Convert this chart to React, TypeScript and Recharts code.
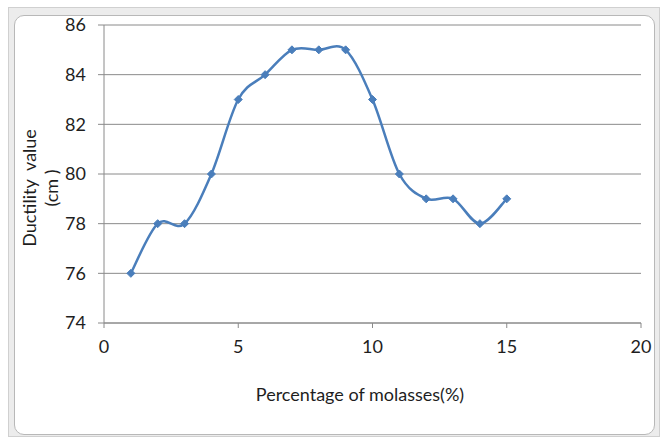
import React from "react";
import { LineChart, Line, XAxis, YAxis, CartesianGrid } from "recharts";

const molasses = [1, 2, 3, 4, 5, 6, 7, 8, 9, 10, 11, 12, 13, 14, 15];
const ductility = [76, 78, 78, 80, 83, 84, 85, 85, 85, 83, 80, 79, 79, 78, 79];
const xTicks = [0, 5, 10, 15, 20];
const yTicks = [74, 76, 78, 80, 82, 84, 86];

const data = molasses.map((m, i) => ({ m, v: ductility[i] }));

const FONT = "Lato, 'Open Sans', sans-serif";
const LINE = "#4a7ebb";
const AXIS = "#8a8a8a";
const TEXT = "#1e1e1e";

// Excel-style smoothed line (Catmull-Rom through the points)
function excelCurve(context: any) {
  let pts: [number, number][] = [];
  return {
    areaStart() {},
    areaEnd() {},
    lineStart() {
      pts = [];
    },
    point(x: number, y: number) {
      pts.push([+x, +y]);
    },
    lineEnd() {
      if (!pts.length) return;
      context.moveTo(pts[0][0], pts[0][1]);
      for (let i = 0; i < pts.length - 1; i++) {
        const p0 = pts[Math.max(0, i - 1)];
        const p1 = pts[i];
        const p2 = pts[i + 1];
        const p3 = pts[Math.min(pts.length - 1, i + 2)];
        context.bezierCurveTo(
          p1[0] + (p2[0] - p0[0]) / 6,
          p1[1] + (p2[1] - p0[1]) / 6,
          p2[0] - (p3[0] - p1[0]) / 6,
          p2[1] - (p3[1] - p1[1]) / 6,
          p2[0],
          p2[1]
        );
      }
    },
  };
}

const Diamond = (props: any) => {
  const { cx, cy } = props;
  if (cx == null || cy == null) return null;
  const s = 4;
  return (
    <path
      d={`M${cx},${cy - s}L${cx + s},${cy}L${cx},${cy + s}L${cx - s},${cy}Z`}
      fill={LINE}
      stroke={LINE}
      strokeWidth={1}
    />
  );
};

// two-line rotated axis title, baselines placed on the right of each line
const YLabel = () => (
  <g fontFamily={FONT} fontSize={18} fill={TEXT}>
    <text x={36} y={188} transform="rotate(-90 36 188)" textAnchor="middle" style={{ whiteSpace: "pre" }}>
      {"Ductility  value"}
    </text>
    <text x={58} y={188} transform="rotate(-90 58 188)" textAnchor="middle" style={{ whiteSpace: "pre" }}>
      {"(cm )"}
    </text>
  </g>
);

const XLabel = () => (
  <text x={360} y={401} textAnchor="middle" fontFamily={FONT} fontSize={18} fill={TEXT}>
    Percentage of molasses(%)
  </text>
);

export default function App() {
  return (
    <div style={{ position: "absolute", left: 0, top: 0, width: 661, height: 437, background: "#fff" }}>
      <div
        style={{
          position: "absolute",
          left: 8,
          top: 7,
          width: 652,
          height: 430,
          background: "#ececec",
          border: "1px solid #d0d0d0",
          boxSizing: "border-box",
        }}
      />
      <div
        style={{
          position: "absolute",
          left: 14,
          top: 15,
          width: 641,
          height: 420,
          background: "#fff",
          border: "1px solid #b8b8b8",
          borderRadius: 10,
          boxSizing: "border-box",
        }}
      />
      <div style={{ position: "absolute", left: 0, top: 0 }}>
        <LineChart
          width={661}
          height={437}
          data={data}
          margin={{ top: 25, right: 20, left: 54, bottom: 0 }}
        >
          <CartesianGrid horizontal={true} vertical={false} stroke={AXIS} strokeWidth={1} />
          <XAxis
            dataKey="m"
            type="number"
            domain={[0, 20]}
            ticks={xTicks}
            height={114}
            stroke={AXIS}
            tickSize={5}
            tickMargin={12}
            tick={{ fontSize: 18, fill: TEXT, fontFamily: FONT }}
            label={<XLabel />}
          />
          <YAxis
            type="number"
            domain={[74, 86]}
            ticks={yTicks}
            width={50}
            stroke={AXIS}
            tickSize={6}
            tickMargin={12}
            tick={{ fontSize: 18, fill: TEXT, fontFamily: FONT }}
            label={<YLabel />}
          />
          <Line
            dataKey="v"
            type={excelCurve as any}
            stroke={LINE}
            strokeWidth={2.5}
            dot={<Diamond />}
            activeDot={false}
            isAnimationActive={false}
          />
        </LineChart>
      </div>
    </div>
  );
}
